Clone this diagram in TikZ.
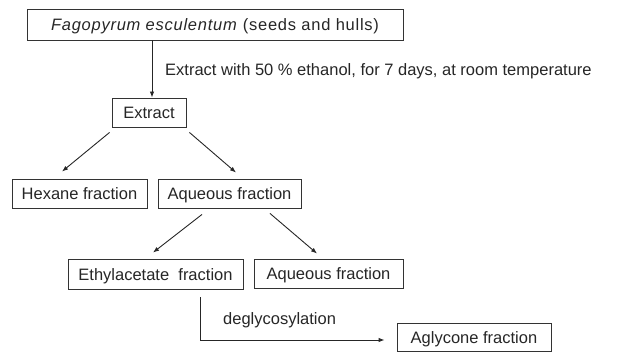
\documentclass[tikz,border=0pt]{standalone}
\usepackage{fontspec}
\setmainfont{Liberation Sans}
\newfontfamily\widefont[LetterSpace=4.5]{Liberation Sans}
\usetikzlibrary{arrows.meta,calc}
\begin{document}
\begin{tikzpicture}[x=1pt,y=-1pt,
  box/.style={draw=black!80,line width=0.9pt,inner sep=0pt,anchor=center,text=black!85,text height=12.5pt,text depth=0pt,font=\fontsize{16.5}{19}\selectfont},
  arr/.style={draw=black!85,line width=0.9pt,-{Latex[length=6pt,width=4.5pt]}},
  lbl/.style={text=black!85,font=\fontsize{16.5}{19}\selectfont,inner sep=0pt}]
\useasboundingbox (0,0) rectangle (618,352);
\node[box,minimum width=376pt,minimum height=31pt] (b1) at (215,24.5) {\widefont\textit{Fagopyrum esculentum} (seeds and hulls)};
\node[box,minimum width=74pt,minimum height=29pt] (ext) at (149,112.5) {Extract};
\node[box,minimum width=135pt,minimum height=29pt] (hex) at (79.5,193.5) {Hexane fraction};
\node[box,minimum width=143pt,minimum height=29pt] (aq1) at (229.5,193.5) {Aqueous fraction};
\node[box,minimum width=175pt,minimum height=30pt] (eth) at (155.5,274) {Ethylacetate\ \ fraction};
\node[box,minimum width=149pt,minimum height=29pt] (aq2) at (328.5,273.5) {Aqueous fraction};
\node[box,minimum width=154pt,minimum height=28pt] (agl) at (474,337) {Aglycone fraction};
\node[lbl,anchor=west] (l1) at (165,71) {Extract with 50 \% ethanol, for 7 days, at room temperature};
\node[lbl,anchor=west] (l2) at (223,320) {deglycosylation};
\draw[arr] ([xshift=-63pt]b1.south) -- ([xshift=3pt]ext.north);
\draw[arr] ([xshift=-2pt,yshift=-5pt]ext.south west) -- ([xshift=-17.5pt,yshift=7pt]hex.north);
\draw[arr] ([xshift=3pt,yshift=-5pt]ext.south east) -- ([xshift=6.5pt,yshift=6pt]aq1.north);
\draw[arr] ([xshift=-27.5pt,yshift=-6pt]aq1.south) -- ([xshift=-2.5pt,yshift=6pt]eth.north);
\draw[arr] ([xshift=40.5pt,yshift=-5pt]aq1.south) -- ([xshift=-11.5pt,yshift=5pt]aq2.north);
\draw[arr] ([xshift=-43pt,yshift=-8pt]eth.south east) |- ([xshift=-12pt,yshift=-3pt]agl.west);
\end{tikzpicture}
\end{document}
